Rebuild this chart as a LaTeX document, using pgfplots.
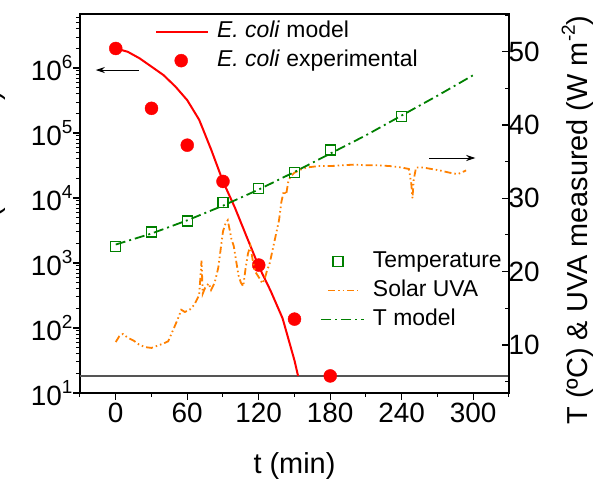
\documentclass[border=0pt]{standalone}
\usepackage{fontspec}
\setmainfont{Liberation Sans}
\usepackage{pgfplots}
\pgfplotsset{compat=1.18}
\usetikzlibrary{arrows.meta}
\definecolor{ored}{RGB}{255,0,0}
\definecolor{dgreen}{RGB}{0,128,0}
\definecolor{uvorange}{RGB}{255,128,0}
\definecolor{limgray}{RGB}{85,85,85}
\newcommand{\sps}[1]{\raisebox{0.45em}{\fontsize{19}{19}\selectfont #1}}
\pgfplotsset{
  limgA/.style={legend image code/.code={\draw[##1] (0bp,0bp) -- (52bp,0bp);}},
  limgB/.style={legend image code/.code={\draw[##1] plot coordinates {(25bp,0bp)};}},
  limgC/.style={legend image code/.code={\draw[##1] plot coordinates {(17bp,0bp)};}},
  limgD/.style={legend image code/.code={\draw[##1] (7bp,0bp) -- (37bp,0bp);}},
  limgE/.style={legend image code/.code={\draw[##1, draw=dgreen] (0bp,0bp) -- (43bp,0bp);}},
}
\begin{document}
\begin{tikzpicture}[font=\fontsize{28}{32}\selectfont]
\pgfplotsset{
  common/.style={
    scale only axis, width=429bp, height=379bp,
    xmin=-30, xmax=330,
    major tick length=7bp, minor tick length=4bp,
    axis line style={line width=1.6bp},
    every tick/.style={black, line width=1.3bp},
    every minor tick/.style={black, line width=1bp},
    tick label style={font=\fontsize{28}{32}\selectfont},
    /pgf/number format/assume math mode=true,
    label style={font=\fontsize{29}{33}\selectfont},
    legend style={draw=none, fill=none, inner sep=0pt, row sep=7bp,
      font=\fontsize{23}{27}\selectfont,
      nodes={inner sep=0pt, text height=17bp, text depth=5bp, anchor=west},
      /tikz/every odd column/.append style={column sep=8bp}},
    legend cell align=left,
  }
}
\begin{axis}[common,
  ymode=log, ymin=10, ymax=6.78e6,
  xtick={0,60,120,180,240,300}, minor xtick={-30,30,90,150,210,270,330},
  ytick={10,100,1000,10000,100000,1000000},
  yticklabels={10\sps{1},10\sps{2},10\sps{3},10\sps{4},10\sps{5},10\sps{6}},
  minor ytick={20,30,40,50,60,70,80,90,200,300,400,500,600,700,800,900,2000,3000,4000,5000,6000,7000,8000,9000,20000,30000,40000,50000,60000,70000,80000,90000,200000,300000,400000,500000,600000,700000,800000,900000,2000000,3000000,4000000,5000000,6000000},
  xtick pos=bottom, ytick pos=left, tick align=outside,
  yticklabel style={xshift=3bp},
  xlabel={t (min)},
  xlabel style={at={(axis description cs:0.5,-0.2137)}, anchor=base},
  legend style={at={(axis description cs:0.1748,0.983)}, anchor=north west},
]
\addplot[limgray, line width=2bp, forget plot] coordinates {(-30,18.3) (330,18.3)};
\addplot[ored, line width=2bp, limgA]
  coordinates {(0,2.0e6) (10,1.78e6) (20,1.41e6) (30,1.05e6) (40,7.8e5) (50,5.2e5)
  (60,3.2e5) (70,1.6e5) (80,5.6e4) (90,1.8e4) (100,7.1e3) (110,2.5e3) (120,890)
  (130,372) (140,141) (150,31.6) (153,18.3)};
\addlegendentry{\textit{E. coli} model}
\addplot[only marks, mark=*, mark size=6.5bp, ored, mark options={fill=ored, draw=ored}, limgB]
  coordinates {(0,2.0e6) (30,2.4e5) (60,6.5e4) (90,1.8e4) (120,930) (150,137) (180,18.3)};
\addlegendentry{\textit{E. coli} experimental}
\draw[-{Stealth[length=9bp,width=6bp]}, line width=1bp] (axis cs:19.2,9.31e5) -- (axis cs:-16.7,9.31e5);
\end{axis}
\begin{axis}[common,
  ymin=3.45, ymax=55.14,
  axis y line*=right, axis x line=none,
  ytick={10,20,30,40,50}, minor ytick={5,15,25,35,45,55},
  ytick pos=right, tick align=inside,
  yticklabel style={xshift=-4bp},
  ylabel={T (ºC) \& UVA measured (W m\sps{-2})},
  ylabel style={at={(axis description cs:1.1841,0.4565)}, anchor=base, rotate=0},
  legend style={at={(axis description cs:0.5594,0.3765)}, anchor=north west},
]
\addplot[only marks, mark=square, mark size=5bp, draw=dgreen, mark options={line width=1.4bp, draw=dgreen}, limgC]
  coordinates {(0,23.4) (30,25.4) (60,26.9) (90,29.4) (120,31.3) (150,33.5) (180,36.6) (240,41.2)};
\addlegendentry{Temperature}
\addplot[uvorange, line width=1.8bp,
  dash pattern=on 7bp off 3bp on 1.5bp off 3bp on 1.5bp off 3bp, limgD]
  table {
t uva
0 10.4
3 11.2
6 11.5
10 11.0
15 10.6
20 10.0
25 9.7
30 9.6
35 9.9
40 10.2
44 10.5
48 12.0
52 13.5
55 14.8
58 14.5
62 14.8
66 15.5
70 16.8
72 21.5
73 17.0
75 17.8
78 18.4
80 17.5
83 18.5
86 20.5
88 23.0
90 25.5
92 26.5
94 27.0
95 26.2
97 24.5
99 23.5
101 21.5
103 19.5
105 18.5
107 18.0
109 20.5
111 22.5
113 23.5
115 21.5
117 20.0
119 19.5
121 19.0
123 18.4
125 19.0
127 20.2
129 21.0
131 22.5
133 24.0
135 25.5
137 27.0
139 29.5
141 31.0
143 30.5
145 32.5
147 33.0
150 33.5
155 33.9
160 34.2
170 34.4
180 34.4
190 34.5
200 34.6
210 34.5
220 34.5
230 34.4
240 34.2
246 34.0
248 32.0
249 30.0
250 32.5
252 34.2
258 34.2
265 34.0
272 33.8
280 33.5
287 33.3
294 33.8
};
\addlegendentry{Solar UVA}
\addplot[draw=dgreen, color=dgreen, line width=1.8bp, dash pattern=on 10bp off 4bp on 2bp off 4bp, limgE]
  coordinates {(0,23.7) (30,25.2) (60,27.0) (90,29.0) (120,31.2) (150,33.6) (180,36.1)
  (210,38.6) (240,41.3) (270,44.0) (300,46.8)};
\addlegendentry{T model}
\draw[-{Stealth[length=9bp,width=6bp]}, line width=1bp] (axis cs:263.2,35.5) -- (axis cs:301.7,35.5);
\end{axis}
\node[rotate=90, anchor=base, font=\fontsize{29}{33}\selectfont] at (-80bp,195.5bp) {\textit{E. coli} (CFU/mL)};
\pgfresetboundingbox
\path[use as bounding box] (-80bp,-98bp) rectangle (526bp,393bp);
\end{tikzpicture}
\end{document}
